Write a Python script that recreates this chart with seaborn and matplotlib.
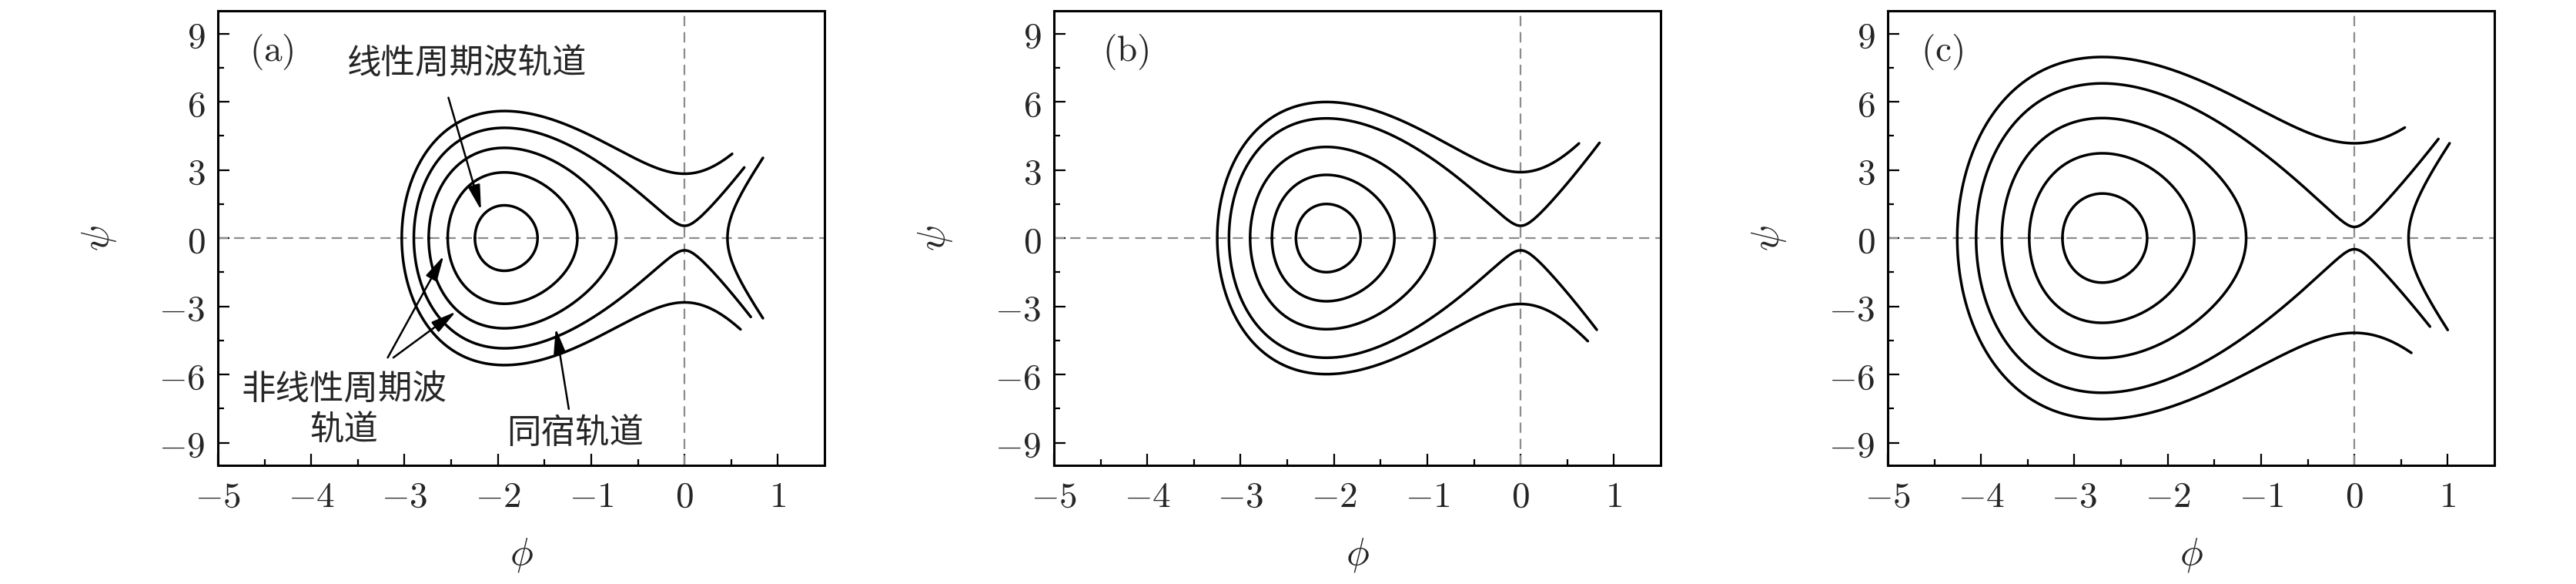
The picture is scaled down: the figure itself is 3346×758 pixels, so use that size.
import numpy as np
import matplotlib
matplotlib.use("Agg")
import matplotlib.pyplot as plt
import seaborn as sns

# values
# phi of the centre (small orbits), psi at the top of each closed orbit,
# psi where each open orbit crosses phi = 0, psi at the top of the open orbits,
# phi where each open curve stops (upper / lower half),
# phi of the vertex of the right-hand branch and where it stops
a_center = -1.93
a_closed_top = [1.44, 2.89, 3.97]
a_open_cross = [0.54, 2.83]
a_open_top = [4.85, 5.59]
a_open_end_up = [0.64, 0.51]
a_open_end_dn = [0.71, 0.60]
a_branch_vertex = [0.46]
a_branch_end_up = [0.84]
a_branch_end_dn = [0.84]

b_center = -2.08
b_closed_top = [1.50, 2.78, 4.01]
b_open_cross = [0.54, 2.90]
b_open_top = [5.24, 6.01]
b_open_end_up = [0.845, 0.625]
b_open_end_dn = [0.816, 0.72]
b_branch_vertex = []
b_branch_end_up = []
b_branch_end_dn = []

c_center = -2.70
c_closed_top = [1.96, 3.73, 5.28]
c_open_cross = [0.49, 4.17]
c_open_top = [6.79, 7.98]
c_open_end_up = [0.90, 0.54]
c_open_end_dn = [0.81, 0.61]
c_branch_vertex = [0.58]
c_branch_end_up = [1.02]
c_branch_end_dn = [1.00]

panel_tags = ["(a)", "(b)", "(c)"]
tag_x = [-4.42, -4.23, -4.42]
x_ticks = [-5, -4, -3, -2, -1, 0, 1]
y_ticks = [-9, -6, -3, 0, 3, 6, 9]


def orbits(center, closed_top, open_cross, open_top, end_up, end_dn,
           br_vertex, br_up, br_dn):
    # level curves of psi^2/2 + V(phi), V cubic with saddle at 0
    vc = np.mean([c ** 2 / 2 - t ** 2 / 2 for c, t in zip(open_cross, open_top)])
    k = -6 * vc / center ** 3

    def V(p):
        return k * (p ** 3 / 3 - center * p ** 2 / 2)

    def psi(p, e):
        return np.sqrt(np.clip(2 * (e - V(p)), 0, None))

    def roots(e):
        r = np.roots([k / 3, -k * center / 2, 0, -e])
        return np.sort(r[np.abs(r.imag) < 1e-7].real)

    curves = []
    t = np.linspace(0, np.pi, 400)
    for top in closed_top:
        e = vc + top ** 2 / 2
        r = roots(e)
        p = r[0] + (r[1] - r[0]) * (1 - np.cos(t)) / 2
        curves.append((np.r_[p, p[::-1]], np.r_[psi(p, e), -psi(p[::-1], e)]))
    u = np.linspace(0, 1, 400)
    for cr, eu, ed in zip(open_cross, end_up, end_dn):
        e = cr ** 2 / 2
        left = roots(e)[0]
        pu = left + (eu - left) * u ** 2
        pd = left + (ed - left) * u ** 2
        curves.append((np.r_[pd[::-1], pu], np.r_[-psi(pd[::-1], e), psi(pu, e)]))
    for v, eu, ed in zip(br_vertex, br_up, br_dn):
        e = V(v)
        pu = v + (eu - v) * u ** 2
        pd = v + (ed - v) * u ** 2
        curves.append((np.r_[pd[::-1], pu], np.r_[-psi(pd[::-1], e), psi(pu, e)]))
    return curves


panels = [
    orbits(a_center, a_closed_top, a_open_cross, a_open_top, a_open_end_up,
           a_open_end_dn, a_branch_vertex, a_branch_end_up, a_branch_end_dn),
    orbits(b_center, b_closed_top, b_open_cross, b_open_top, b_open_end_up,
           b_open_end_dn, b_branch_vertex, b_branch_end_up, b_branch_end_dn),
    orbits(c_center, c_closed_top, c_open_cross, c_open_top, c_open_end_up,
           c_open_end_dn, c_branch_vertex, c_branch_end_up, c_branch_end_dn),
]

sns.set_style("ticks")
plt.rcParams["mathtext.fontset"] = "cm"
plt.rcParams["font.family"] = ["Noto Sans CJK SC", "DejaVu Sans"]

fig = plt.figure(figsize=(33.46, 7.58), dpi=100)
lefts = [283, 1369, 2452]
axes = []
for i, curves in enumerate(panels):
    ax = fig.add_axes([lefts[i] / 3346, 154 / 758, 788 / 3346, 590 / 758])
    axes.append(ax)
    ax.axhline(0, color="#8c8c8c", lw=1.6, ls=(0, (6, 3.5)), zorder=1)
    ax.axvline(0, color="#8c8c8c", lw=1.6, ls=(0, (6, 3.5)), zorder=1)
    for px, py in curves:
        sns.lineplot(x=px, y=py, sort=False, estimator=None, color="black",
                     linewidth=2.5, ax=ax, zorder=3)
    ax.set_xlim(-5, 1.5)
    ax.set_ylim(-10, 10)
    ax.set_xticks(x_ticks, labels=[f"${v}$" for v in x_ticks])
    ax.set_yticks(y_ticks, labels=[f"${v}$" for v in y_ticks])
    ax.set_xticks(np.arange(-4.5, 1.5, 1.0), minor=True)
    ax.set_yticks(np.arange(-7.5, 9, 3.0), minor=True)
    ax.tick_params(which="both", direction="in", top=False, right=False,
                   width=1.6, labelsize=34, pad=12, color="black")
    ax.tick_params(which="major", length=11)
    ax.tick_params(which="minor", length=6)
    for s in ax.spines.values():
        s.set_linewidth(2.2)
        s.set_color("black")
    ax.set_xlabel(r"$\phi$", fontsize=36)
    ax.set_ylabel(r"$\psi$", fontsize=36)
    ax.xaxis.set_label_coords(0.5, -0.195)
    ax.xaxis.label.set_va("center")
    ax.yaxis.set_label_coords(-0.197, 0.5)
    ax.yaxis.label.set_va("center")
    ax.text(tag_x[i], 8.2, r"$\mathrm{" + panel_tags[i] + "}$", fontsize=34,
            ha="center", va="center")

# annotations in panel (a)
ax = axes[0]
cjk = ["Noto Sans CJK SC", "DejaVu Sans"]
arrow = dict(arrowstyle="-|>,head_length=0.9,head_width=0.22", color="black",
             lw=1.8, mutation_scale=22, shrinkA=0, shrinkB=0)
ax.text(-2.33, 7.68, "线性周期波轨道", fontsize=32, family=cjk, ha="center", va="center")
ax.text(-3.65, -7.55, "非线性周期波\n轨道", fontsize=32, family=cjk, ha="center",
        va="center", linespacing=1.2)
ax.text(-1.17, -8.58, "同宿轨道", fontsize=32, family=cjk, ha="center", va="center")
ax.annotate("", xy=(-2.18, 1.23), xytext=(-2.53, 6.18), arrowprops=arrow)
ax.annotate("", xy=(-2.58, -0.78), xytext=(-3.18, -5.26), arrowprops=arrow)
ax.annotate("", xy=(-2.45, -3.24), xytext=(-3.12, -5.26), arrowprops=arrow)
ax.annotate("", xy=(-1.38, -3.97), xytext=(-1.24, -7.52), arrowprops=arrow)

fig.savefig("out.png", dpi=100, facecolor="white")
